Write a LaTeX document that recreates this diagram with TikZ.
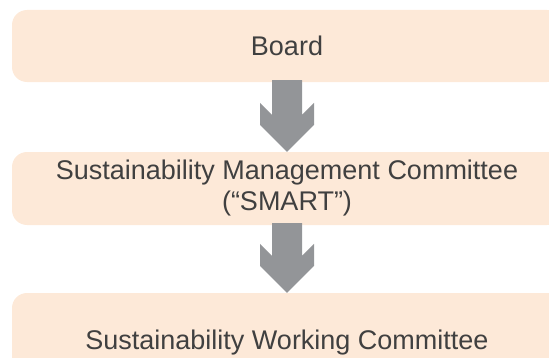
\documentclass[tikz,border=0pt]{standalone}
\usepackage{fontspec}
\setmainfont{Liberation Sans}
\usetikzlibrary{calc}
\definecolor{boxpeach}{RGB}{253,233,216}
\definecolor{arrowgray}{RGB}{147,149,152}
\definecolor{textgray}{RGB}{64,64,64}

\begin{document}
\begin{tikzpicture}[x=1pt,y=1pt,
    level/.style={fill=boxpeach, rounded corners=15pt, minimum width=550pt,
      inner sep=0pt, text=textgray, align=center,
      font=\fontsize{27}{31}\selectfont}]
  \clip (0,0) rectangle (549,357);
  \node[level, minimum height=72pt] (board) at (287,311) {Board};
  \node[level, minimum height=73pt] (smart) at (287,168.5)
    {Sustainability Management Committee\\(“SMART”)};
  \node[level, minimum height=100pt] (working) at (287,14)
    {Sustainability Working Committee};
  \foreach \a/\b in {board/smart, smart/working}
  {
    \fill[arrowgray] ($(\a.south)+(-15,2)$) -- ($(\b.north)+(-15,37)$)
      -- ($(\b.north)+(-27,49)$) -- ($(\b.north)+(-27,27)$) -- (\b.north)
      -- ($(\b.north)+(27,27)$) -- ($(\b.north)+(27,49)$)
      -- ($(\b.north)+(15,37)$) -- ($(\a.south)+(15,2)$) -- cycle;
  }
\end{tikzpicture}
\end{document}
